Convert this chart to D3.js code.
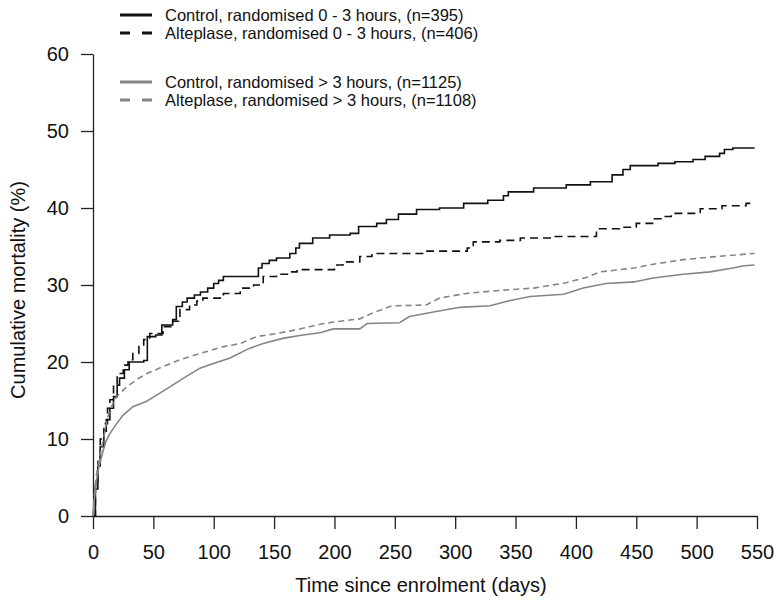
<!DOCTYPE html>
<html>
<head>
<meta charset="utf-8">
<script src="https://cdn.jsdelivr.net/npm/d3@7"></script>
<style>
  html, body { margin: 0; padding: 0; background: #fff; }
  svg { display: block; font-family: "Liberation Sans", Arial, Helvetica, sans-serif; }
</style>
</head>
<body>
<svg id="chart" width="774" height="604"></svg>
<script>
// Cumulative mortality (%) by days since enrolment, four groups.
const ctrlEarlyDays = [0,2,4,6,9,11,14,17,20,22,26,30,42,45,52,57,66,69,74,78,84,89,95,100,104,108,134,137,140,146,152,163,168,171,182,196,213,220,235,243,253,268,287,307,327,340,344,365,392,412,430,439,445,468,482,497,507,519,523,530,548];
const ctrlEarlyPct  = [0,3.5,6.5,9.0,11,12.5,14,15.5,17,17.9,19,20.0,20.2,23.3,23.5,24.8,25.5,27.2,27.8,28.3,28.7,29.1,29.6,30.2,30.6,31.1,31.1,32.2,32.8,33.2,33.5,34.1,34.8,35.4,36.1,36.5,36.7,37.6,38.0,38.5,39.2,39.8,40.0,40.6,41.0,41.6,42.1,42.6,43.0,43.4,44.3,45.0,45.5,45.8,46.0,46.3,46.7,47.1,47.6,47.8,47.8];

const altEarlyDays = [0,2,4,6,9,12,14,17,20,25,29,33,38,42,47,58,66,72,80,86,91,108,122,133,141,152,163,169,200,207,221,231,274,310,315,337,354,381,417,436,450,465,472,479,503,521,541,548];
const altEarlyPct  = [0,4,7.5,10,12,14,15.1,17,18.5,19.6,20.3,21.1,22,22.9,23.7,24.6,25.3,26.8,27.4,27.9,28.3,28.9,29.6,30.0,31.1,31.4,31.7,32.0,32.6,33.0,33.7,34.1,34.4,34.8,35.6,35.8,36.1,36.3,37.3,37.5,38.0,38.6,38.9,39.3,39.9,40.3,40.6,40.6];

const ctrlLateDays = [0,1,3,5,8.6,11,14,19.6,25,33,44.5,52.7,64,75,88.6,99.7,113,130,141,158,174,188,199,221,227,254,262,282,304,329,343,362,390,406,425,448,464,489,511,530,539,548];
const ctrlLatePct  = [0,2,4.7,6.5,8.6,9.8,10.7,12.0,13.1,14.2,14.9,15.7,16.8,17.9,19.2,19.8,20.5,21.8,22.4,23.1,23.5,23.8,24.3,24.3,25.0,25.1,25.9,26.5,27.1,27.3,27.9,28.5,28.8,29.6,30.2,30.4,30.9,31.4,31.7,32.2,32.5,32.6];

const altLateDays = [0,1,3,5,8.6,11,14,19.6,28,36,44.5,58,72,88.6,108,122,135.6,152,169,191,205,221,232,248,276,287,309,337,365,392,409,420,448,464,489,517,548];
const altLatePct  = [0,2.5,5.5,7.5,9.9,12,13.8,15.5,16.8,17.7,18.5,19.4,20.3,21.1,22.0,22.4,23.3,23.7,24.2,25.0,25.3,25.6,26.4,27.3,27.4,28.3,28.9,29.3,29.6,30.3,31.0,31.7,32.2,32.7,33.3,33.7,34.1];

const seriesLabels = [
  "Control, randomised 0 - 3 hours, (n=395)",
  "Alteplase, randomised 0 - 3 hours, (n=406)",
  "Control, randomised > 3 hours, (n=1125)",
  "Alteplase, randomised > 3 hours, (n=1108)"
];

const xTicks = [0,50,100,150,200,250,300,350,400,450,500,550];
const yTicks = [0,10,20,30,40,50,60];

const svg = d3.select("#chart");

const x = d3.scaleLinear().domain([0, 550]).range([93, 757]);
const y = d3.scaleLinear().domain([0, 60]).range([516, 54]);

const series = [
  { days: ctrlEarlyDays, pct: ctrlEarlyPct, label: seriesLabels[0], color: "#111", width: 1.6, dash: null,  curve: d3.curveStepAfter },
  { days: altEarlyDays,  pct: altEarlyPct,  label: seriesLabels[1], color: "#111", width: 1.6, dash: "8,5", curve: d3.curveStepAfter },
  { days: ctrlLateDays,  pct: ctrlLatePct,  label: seriesLabels[2], color: "#858585", width: 1.6, dash: null,  curve: d3.curveLinear },
  { days: altLateDays,   pct: altLatePct,   label: seriesLabels[3], color: "#858585", width: 1.6, dash: "6,4", curve: d3.curveLinear }
];

// axes
const yAxis = d3.axisLeft(y).tickValues(yTicks).tickSize(12).tickSizeOuter(0).tickPadding(12);
const xAxis = d3.axisBottom(x).tickValues(xTicks).tickSize(13).tickSizeOuter(0).tickPadding(16);

const gy = svg.append("g").attr("transform", "translate(93,0)").call(yAxis);
const gx = svg.append("g").attr("transform", "translate(0,516)").call(xAxis);

[gx, gy].forEach(g => {
  g.selectAll("path.domain").attr("stroke", "#222").attr("stroke-width", 1.3);
  g.selectAll(".tick line").attr("stroke", "#222").attr("stroke-width", 1.3);
  g.selectAll(".tick text").attr("fill", "#111").attr("font-size", 20)
    .attr("font-family", "Liberation Sans, Arial, sans-serif");
});

// axis titles
svg.append("text")
  .attr("x", 421).attr("y", 592)
  .attr("text-anchor", "middle")
  .attr("font-size", 20).attr("fill", "#111")
  .text("Time since enrolment (days)");

svg.append("text")
  .attr("transform", "translate(25,290) rotate(-90)")
  .attr("text-anchor", "middle")
  .attr("font-size", 20).attr("fill", "#111")
  .text("Cumulative mortality (%)");

// curves
series.forEach(s => {
  const pts = s.days.map((d, i) => [d, s.pct[i]]);
  const line = d3.line().x(d => x(d[0])).y(d => y(d[1])).curve(s.curve);
  svg.append("path")
    .datum(pts)
    .attr("fill", "none")
    .attr("stroke", s.color)
    .attr("stroke-width", s.width)
    .attr("stroke-dasharray", s.dash)
    .attr("d", line);
});

// legend
const legendRows = [15, 33, 82, 100];
series.forEach((s, i) => {
  const ly = legendRows[i];
  svg.append("line")
    .attr("x1", 120).attr("x2", 152)
    .attr("y1", ly).attr("y2", ly)
    .attr("stroke", s.color)
    .attr("stroke-width", 3)
    .attr("stroke-dasharray", s.dash ? "10,12" : null);
  svg.append("text")
    .attr("x", 165).attr("y", ly)
    .attr("dy", "0.35em")
    .attr("font-size", 16.5).attr("fill", "#111")
    .text(s.label);
});
</script>
</body>
</html>
